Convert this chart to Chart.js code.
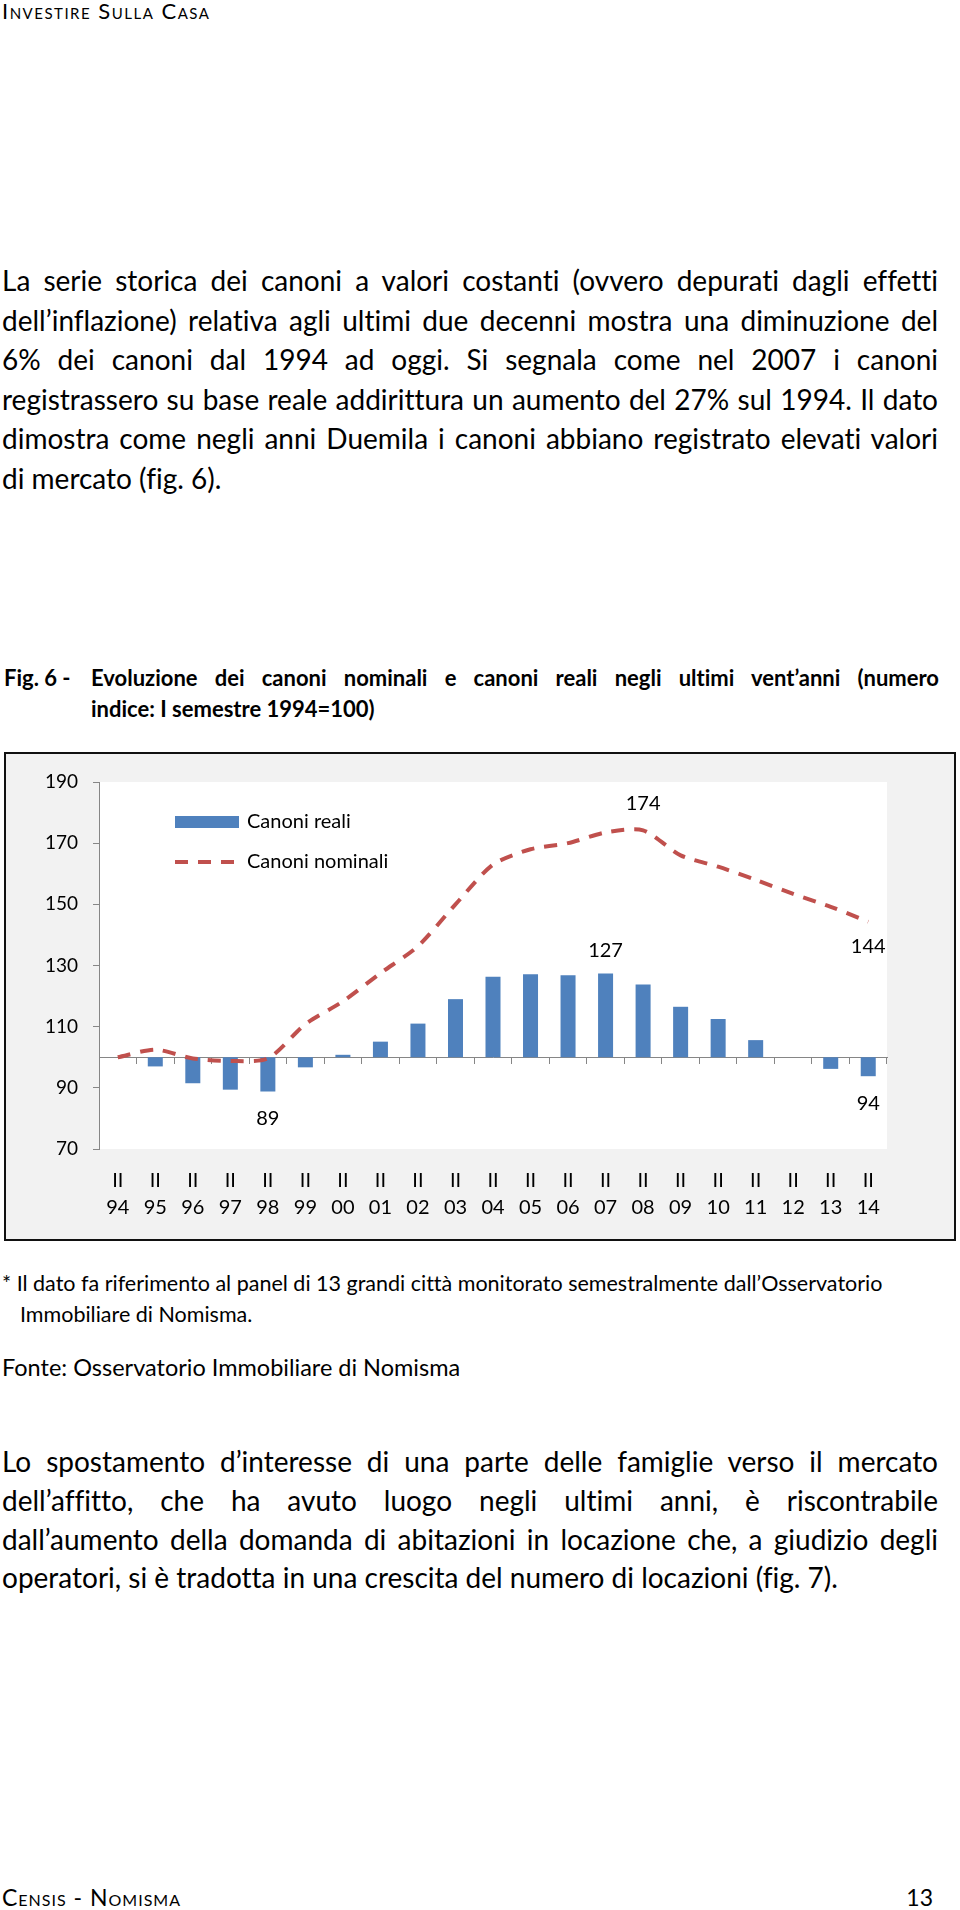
<!DOCTYPE html>
<html lang="it">
<head>
  <meta charset="UTF-8" />
  <title>Investire sulla casa - Fig. 6</title>
  <script src="https://cdn.jsdelivr.net/npm/chart.js@4.4.1/dist/chart.umd.min.js"></script>
  <style>
    html, body { margin: 0; padding: 0; background: #fff; }
    body { position: relative; width: 960px; height: 1910px; overflow: hidden; font-family: Lato, "Open Sans", sans-serif; color: #000; font-variant-ligatures: none; }
    .abs { position: absolute; }
    .caps { font-variant: small-caps; font-variant-ligatures: none; }
    .para { left: 2px; width: 936px; font-size: 28px; }
    .para div { text-align: justify; text-align-last: justify; white-space: nowrap; }
    .para div.last { text-align: left; text-align-last: left; }
    .note { font-size: 21.5px; line-height: 31px; white-space: nowrap; }
    #box { left: 4px; top: 752px; width: 952px; height: 489px; box-sizing: border-box; border: 2px solid #111; background: #f2f2f2; }
    #wrap { position: relative; width: 948px; height: 485px; }
  </style>
</head>
<body>
  <!-- testata -->
  <div class="abs caps" style="left:2px; top:0px; font-size:22px; line-height:22px; letter-spacing:1.5px;">Investire Sulla Casa</div>

  <!-- primo paragrafo, una riga per div -->
  <div class="abs para" style="top:261px; line-height:39.5px;">
    <div>La serie storica dei canoni a valori costanti (ovvero depurati dagli effetti</div>
    <div>dell’inflazione) relativa agli ultimi due decenni mostra una diminuzione del</div>
    <div>6% dei canoni dal 1994 ad oggi. Si segnala come nel 2007 i canoni</div>
    <div>registrassero su base reale addirittura un aumento del 27% sul 1994. Il dato</div>
    <div>dimostra come negli anni Duemila i canoni abbiano registrato elevati valori</div>
    <div class="last">di mercato (fig. 6).</div>
  </div>

  <!-- titolo figura -->
  <div class="abs" style="left:4px; top:662px; font-size:22px; line-height:31px; font-weight:bold;">Fig. 6 -</div>
  <div class="abs para" style="left:91px; width:848px; top:662px; font-size:22px; line-height:31px; font-weight:bold;">
    <div>Evoluzione dei canoni nominali e canoni reali negli ultimi vent’anni (numero</div>
    <div class="last">indice: I semestre 1994=100)</div>
  </div>

  <!-- grafico -->
  <div id="box" class="abs">
    <div id="wrap"><canvas id="canoniChart"></canvas></div>
  </div>

  <!-- note -->
  <div class="abs note" style="left:2px; top:1268px;">* Il dato fa riferimento al panel di 13 grandi città monitorato semestralmente dall’Osservatorio</div>
  <div class="abs note" style="left:20px; top:1299px;">Immobiliare di Nomisma.</div>
  <div class="abs note" style="left:2px; top:1352px; font-size:23.5px;">Fonte: Osservatorio Immobiliare di Nomisma</div>

  <!-- secondo paragrafo -->
  <div class="abs para" style="top:1442px; line-height:38.8px;">
    <div>Lo spostamento d’interesse di una parte delle famiglie verso il mercato</div>
    <div>dell’affitto, che ha avuto luogo negli ultimi anni, è riscontrabile</div>
    <div>dall’aumento della domanda di abitazioni in locazione che, a giudizio degli</div>
    <div class="last">operatori, si è tradotta in una crescita del numero di locazioni (fig. 7).</div>
  </div>

  <!-- piè di pagina -->
  <div class="abs caps" style="left:2px; top:1886px; font-size:23px; line-height:23px; letter-spacing:1px;">Censis - Nomisma</div>
  <div class="abs" style="right:27px; top:1886px; font-size:23px; line-height:23px;">13</div>

  <script>
    // --- dati (numero indice, I semestre 1994 = 100) ---
    const semestre = 'II';
    const anni = ['94', '95', '96', '97', '98', '99', '00', '01', '02', '03', '04',
                  '05', '06', '07', '08', '09', '10', '11', '12', '13', '14'];
    const canoniReali = [100, 97.0, 91.5, 89.4, 88.8, 96.7, 100.8, 105.1, 111.0, 119.0, 126.3,
                         127.1, 126.8, 127.4, 123.8, 116.5, 112.5, 105.6, 100.0, 96.2, 93.8];
    const canoniNominali = [100, 102.5, 99.6, 98.8, 99.6, 110.8, 118.3, 127.5, 136.3, 150.0, 163.0,
                            168.0, 170.0, 173.5, 174.2, 166.0, 162.3, 158.0, 153.4, 149.2, 144.3];
    const yMin = 70;
    const yMax = 190;
    const yPasso = 20;
    const baseIndice = 100;

    const etichette = anni.map(a => [semestre, a]);

    // etichette dei valori mostrate sul grafico (serie, indice, lato)
    const valoriMostrati = [
      { serie: 0, i: 4, lato: 'sotto' },
      { serie: 0, i: 13, lato: 'sopra' },
      { serie: 0, i: 20, lato: 'sotto' },
      { serie: 1, i: 14, lato: 'sopra' },
      { serie: 1, i: 20, lato: 'sotto' }
    ];

    Chart.defaults.font.family = 'Lato, "Open Sans", sans-serif';
    Chart.defaults.color = '#000';

    // sfondo bianco dell'area del grafico
    const sfondoArea = {
      id: 'sfondoArea',
      beforeDraw(chart) {
        const { ctx, chartArea: a } = chart;
        ctx.save();
        ctx.fillStyle = '#ffffff';
        ctx.fillRect(a.left, a.top, a.right - a.left, a.bottom - a.top);
        ctx.restore();
      }
    };

    // legenda dentro l'area del grafico, in alto a sinistra
    const legendaInterna = {
      id: 'legendaInterna',
      afterDatasetsDraw(chart) {
        const { ctx, chartArea: a } = chart;
        const ds = chart.data.datasets;
        const x0 = a.left + 76, w = 64;
        ctx.save();
        ctx.font = '20px Lato, "Open Sans", sans-serif';
        ctx.textBaseline = 'middle';
        ctx.textAlign = 'left';
        ctx.fillStyle = ds[0].backgroundColor;
        ctx.fillRect(x0, a.top + 34, w, 12);
        ctx.fillStyle = '#000';
        ctx.fillText(ds[0].label, x0 + w + 8, a.top + 40);
        ctx.strokeStyle = ds[1].borderColor;
        ctx.lineWidth = ds[1].borderWidth;
        ctx.setLineDash(ds[1].borderDash);
        ctx.beginPath();
        ctx.moveTo(x0, a.top + 80);
        ctx.lineTo(x0 + w, a.top + 80);
        ctx.stroke();
        ctx.setLineDash([]);
        ctx.fillText(ds[1].label, x0 + w + 8, a.top + 80);
        ctx.restore();
      }
    };

    // valori scritti sopra/sotto alcune barre e punti
    const valoriEtichette = {
      id: 'valoriEtichette',
      afterDatasetsDraw(chart) {
        const ctx = chart.ctx;
        ctx.save();
        ctx.font = '20px Lato, "Open Sans", sans-serif';
        ctx.textAlign = 'center';
        ctx.textBaseline = 'middle';
        ctx.fillStyle = '#000';
        valoriMostrati.forEach(e => {
          const dataset = chart.data.datasets[e.serie];
          const el = chart.getDatasetMeta(e.serie).data[e.i];
          const v = dataset.data[e.i];
          let y;
          if (dataset.type === 'bar') y = e.lato === 'sopra' ? el.y - 23 : el.y + 27;
          else y = e.lato === 'sopra' ? el.y - 27 : el.y + 25;
          ctx.fillText(String(Math.round(v)), el.x, y);
        });
        ctx.restore();
      }
    };

    const ctx = document.getElementById('canoniChart').getContext('2d');
    new Chart(ctx, {
      type: 'bar',
      data: {
        labels: etichette,
        datasets: [
          {
            type: 'bar',
            label: 'Canoni reali',
            data: canoniReali,
            base: baseIndice,
            backgroundColor: '#4f81bd',
            borderWidth: 0,
            categoryPercentage: 0.4,
            barPercentage: 1.0,
            xAxisID: 'x',
            yAxisID: 'y',
            order: 2
          },
          {
            type: 'line',
            label: 'Canoni nominali',
            data: canoniNominali,
            borderColor: '#c0504d',
            backgroundColor: '#c0504d',
            borderWidth: 4,
            borderDash: [13, 10],
            tension: 0.25,
            pointRadius: 0,
            fill: false,
            xAxisID: 'x',
            yAxisID: 'y',
            order: 1
          }
        ]
      },
      options: {
        responsive: true,
        maintainAspectRatio: false,
        animation: false,
        layout: { padding: { top: 28, right: 67, bottom: 0, left: 0 } },
        plugins: {
          legend: { display: false },
          tooltip: { enabled: false }
        },
        scales: {
          x: {
            type: 'category',
            position: 'bottom',
            offset: true,
            grid: { display: false, drawTicks: false, offset: true },
            border: { display: false },
            ticks: { font: { size: 20, lineHeight: 1.35 }, color: '#000', padding: 18, autoSkip: false, maxRotation: 0 },
            afterFit(s) { s.height = 90; }
          },
          xAsse: {
            type: 'category',
            axis: 'x',
            position: { y: baseIndice },
            offset: true,
            grid: { drawOnChartArea: false, drawTicks: true, tickLength: 6, color: '#868686', offset: true },
            border: { display: true, color: '#868686', width: 1 },
            ticks: { display: false }
          },
          y: {
            min: yMin,
            max: yMax,
            ticks: { stepSize: yPasso, font: { size: 19 }, color: '#000', padding: 15 },
            grid: { drawOnChartArea: false, drawTicks: true, tickLength: 6, color: '#868686' },
            border: { display: true, color: '#868686', width: 1 },
            afterFit(s) { s.width = 93; }
          }
        }
      },
      plugins: [sfondoArea, legendaInterna, valoriEtichette]
    });
  </script>
</body>
</html>
